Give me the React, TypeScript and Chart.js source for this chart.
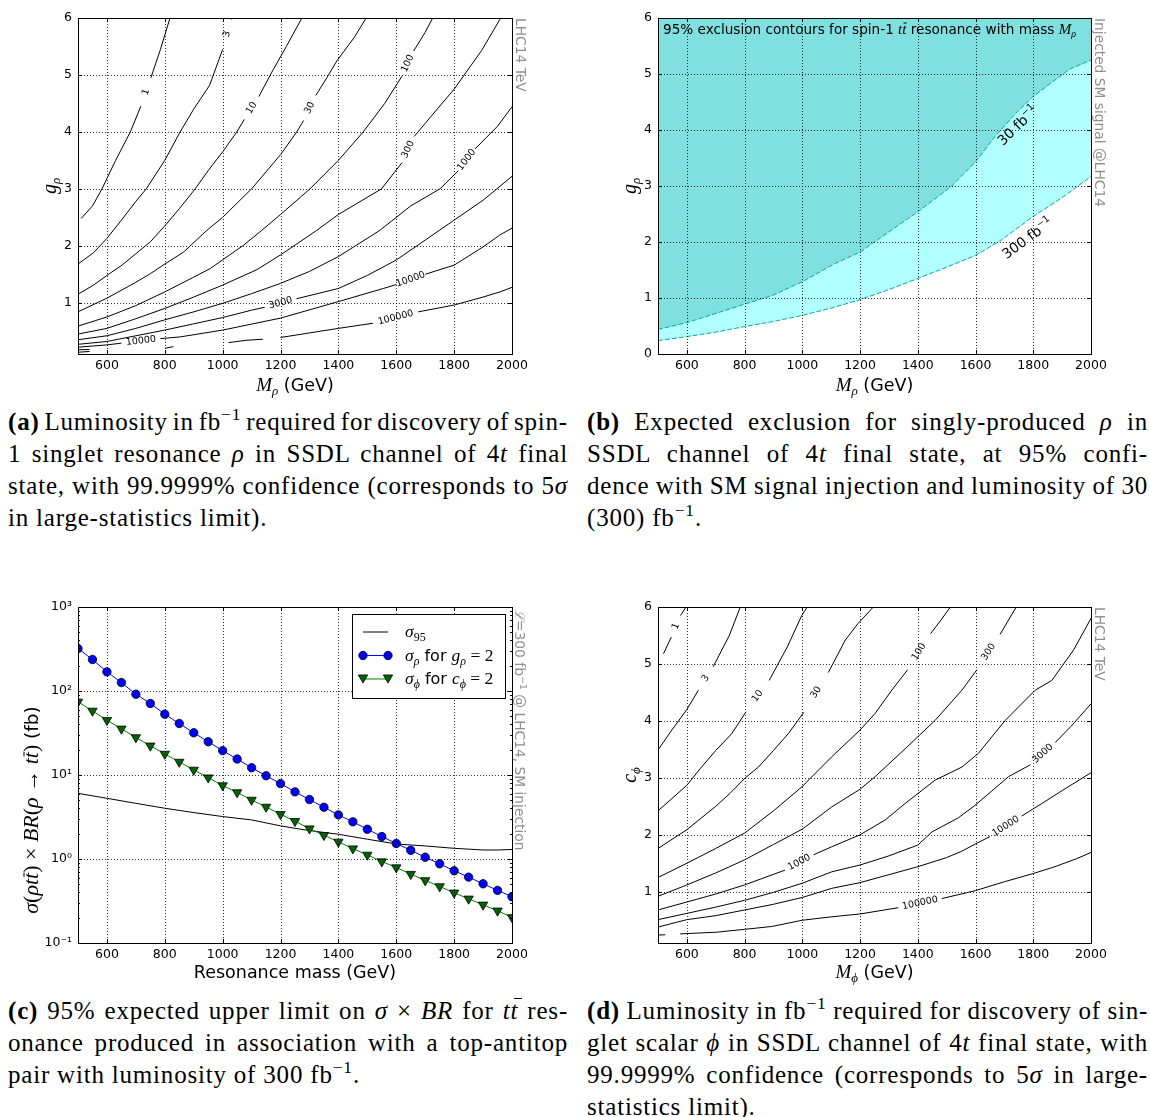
import React, { useEffect, useLayoutEffect, useRef } from 'react';
import { Chart, registerables } from 'chart.js';

Chart.register(...registerables);

const SANS = '"DejaVu Sans", Verdana, sans-serif';
const SERIF = '"Liberation Serif", "DejaVu Serif", serif';
const GRAY = '#8f8f8f';

// ---------------- data ----------------
const MASS_TICKS = [600, 800, 1000, 1200, 1400, 1600, 1800, 2000];
const G_TICKS = [1, 2, 3, 4, 5, 6];
const G_TICKS_B = [0, 1, 2, 3, 4, 5, 6];
const LOG_TICKS = [0.1, 1, 10, 100, 1000];
const LOG_TICK_LABELS = ['10⁻¹', '10⁰', '10¹', '10²', '10³'];
const LEVELS = ['1', '3', '10', '30', '100', '300', '1000', '3000', '10000', '100000'];

// contour polylines [mass, coupling]; null = labelled gap, '|' = plain break
type P = [number, number] | null | '|';

// (a) spin-1 rho, g_rho
const RHO_1: P[] = [[511, 2.48], [550, 2.7], [583, 3.0], [630, 3.5], [681, 4.0], [717, 4.45], null, [752, 4.95], [785, 5.45], [818, 6.0]];
const RHO_3: P[] = [[500, 1.68], [554, 1.88], [600, 2.13], [650, 2.45], [700, 2.78], [736, 3.0], [800, 3.5], [853, 4.0], [900, 4.4], [955, 4.82], [1000, 5.45], null, [1030, 5.98], [1032, 6.0]];
const RHO_10: P[] = [[500, 1.15], [554, 1.31], [600, 1.48], [652, 1.66], [700, 1.86], [750, 2.07], [800, 2.35], [850, 2.65], [905, 3.0], [950, 3.32], [1000, 3.65], [1049, 4.0], [1075, 4.22], null, [1125, 4.62], [1170, 5.05], [1220, 5.5], [1274, 6.0]];
const RHO_30: P[] = [[500, 0.84], [600, 1.08], [700, 1.36], [750, 1.51], [800, 1.68], [865, 1.89], [945, 2.27], [1000, 2.5], [1100, 3.0], [1200, 3.6], [1256, 4.0], [1280, 4.2], null, [1322, 4.64], [1360, 4.95], [1395, 5.25], [1455, 5.66], [1496, 6.0]];
const RHO_100: P[] = [[500, 0.59], [600, 0.75], [700, 0.95], [800, 1.19], [900, 1.45], [957, 1.6], [1072, 2.01], [1135, 2.27], [1200, 2.55], [1302, 3.0], [1400, 3.5], [1486, 4.0], [1560, 4.5], [1620, 4.98], null, [1660, 5.42], [1700, 5.75], [1726, 6.0]];
const RHO_300: P[] = [[500, 0.45], [600, 0.55], [700, 0.72], [800, 0.9], [900, 1.1], [1000, 1.31], [1118, 1.58], [1200, 1.84], [1325, 2.27], [1400, 2.55], [1549, 3.0], [1620, 3.46], null, [1662, 3.92], [1700, 4.15], [1800, 4.75], [1895, 5.43], [1961, 6.0]];
const RHO_1000: P[] = [[500, 0.35], [600, 0.42], [700, 0.55], [800, 0.7], [900, 0.84], [1000, 0.99], [1100, 1.16], [1200, 1.34], [1300, 1.55], [1400, 1.81], [1543, 2.27], [1650, 2.7], [1751, 3.0], [1815, 3.32], null, [1872, 3.7], [1950, 4.1], [2000, 4.44]];
const RHO_3000: P[] = [[500, 0.27], [600, 0.32], [700, 0.42], [800, 0.52], [900, 0.63], [1000, 0.74], [1100, 0.87], [1145, 0.92], null, [1255, 1.07], [1400, 1.25], [1500, 1.48], [1600, 1.75], [1700, 2.1], [1800, 2.45], [1900, 2.8], [2000, 3.22]];
const RHO_10000: P[] = [[500, 0.22], [600, 0.26], [650, 0.29], null, [785, 0.37], [853, 0.4], [1000, 0.52], [1200, 0.73], [1400, 1.02], [1555, 1.25], [1600, 1.32], null, [1700, 1.5], [1800, 1.66], [1900, 1.98], [1958, 2.19], [2000, 2.31]];
const RHO_100000: P[] = [[500, 0.175], [540, 0.178], '|', [500, 0.13], [540, 0.145], '|', [801, 0.2], [830, 0.23], '|', [1020, 0.3], [1080, 0.34], [1139, 0.36], '|', [1200, 0.39], [1300, 0.47], [1400, 0.55], [1520, 0.64], null, [1676, 0.84], [1800, 0.96], [1900, 1.1], [1958, 1.19], [2000, 1.27]];

// (d) scalar phi, c_phi
const PHI_1: P[] = [[519, 5.18], [546, 5.47], null, [578, 5.85], [597, 6.0]];
const PHI_3: P[] = [[500, 3.49], [548, 3.84], [600, 4.2], [640, 4.54], null, [691, 4.95], [747, 5.5], [785, 6.0]];
const PHI_10: P[] = [[500, 2.42], [600, 2.87], [646, 3.16], [700, 3.48], [756, 3.78], [805, 4.16], null, [885, 4.71], [948, 5.3], [998, 5.85], [1017, 6.0]];
const PHI_30: P[] = [[500, 1.76], [600, 2.09], [700, 2.5], [750, 2.73], [802, 3.0], [848, 3.19], [900, 3.48], [952, 3.78], [1005, 4.15], null, [1090, 4.85], [1149, 5.42], [1193, 5.71], [1246, 6.0]];
const PHI_100: P[] = [[500, 1.25], [600, 1.5], [700, 1.76], [800, 2.03], [900, 2.42], [998, 2.84], [1102, 3.37], [1200, 3.84], [1252, 4.13], [1310, 4.54], [1365, 4.9], null, [1444, 5.53], [1480, 5.77], [1513, 6.0]];
const PHI_300: P[] = [[500, 0.92], [600, 1.12], [700, 1.33], [800, 1.56], [900, 1.83], [1000, 2.1], [1102, 2.49], [1200, 2.8], [1252, 3.02], [1356, 3.51], [1460, 4.01], [1553, 4.54], [1605, 4.9], null, [1685, 5.52], [1741, 6.0]];
const PHI_1000: P[] = [[500, 0.68], [600, 0.82], [700, 0.96], [800, 1.12], [940, 1.38], null, [1039, 1.65], [1102, 1.79], [1200, 2.0], [1287, 2.26], [1356, 2.55], [1460, 2.96], [1553, 3.19], [1610, 3.43], [1703, 4.01], [1807, 4.54], [1864, 4.71], [1939, 5.24], [2000, 5.8]];
const PHI_3000: P[] = [[500, 0.51], [600, 0.62], [700, 0.73], [800, 0.85], [900, 0.99], [1000, 1.15], [1102, 1.35], [1200, 1.47], [1300, 1.63], [1400, 1.82], [1449, 2.05], [1541, 2.3], [1599, 2.52], [1714, 3.02], [1790, 3.23], null, [1876, 3.62], [1930, 3.9], [2000, 4.3]];
const PHI_10000: P[] = [[500, 0.38], [600, 0.51], [700, 0.58], [800, 0.68], [900, 0.78], [1000, 0.9], [1102, 1.06], [1200, 1.16], [1300, 1.3], [1400, 1.44], [1500, 1.6], [1552, 1.71], [1600, 1.84], [1650, 1.97], null, [1760, 2.33], [1830, 2.55], [1901, 2.78], [2000, 3.09]];
const PHI_100000: P[] = [[500, 0.24], [525, 0.245], '|', [577, 0.26], [704, 0.29], [800, 0.34], [894, 0.39], [1000, 0.5], [1102, 0.56], [1200, 0.61], [1333, 0.72], null, [1483, 0.88], [1600, 1.02], [1703, 1.18], [1800, 1.32], [1875, 1.44], [1950, 1.58], [2000, 1.69]];

// (b) exclusion boundaries
const EXCL_30: [number, number][] = [[500, 0.44], [600, 0.56], [697, 0.72], [800, 0.89], [898, 1.05], [1000, 1.29], [1111, 1.61], [1200, 1.82], [1300, 2.18], [1400, 2.54], [1513, 2.98], [1600, 3.43], [1665, 3.87], [1738, 4.29], [1798, 4.59], [1864, 4.85], [1927, 5.09], [2000, 5.25]];
const EXCL_300: [number, number][] = [[500, 0.24], [600, 0.31], [700, 0.39], [800, 0.49], [900, 0.58], [1000, 0.69], [1100, 0.82], [1200, 0.97], [1300, 1.15], [1400, 1.35], [1500, 1.55], [1600, 1.76], [1688, 2.03], [1798, 2.45], [1902, 2.8], [2000, 3.17]];
const EXCL_LABEL_TEXT = ['30 fb', '300 fb'];
const EXCL_LABEL_POS: [number, number][] = [[1757, 4.11], [1789, 2.09]];

// (c) cross sections (fb)
const C_MASS = [500, 550, 600, 650, 700, 750, 800, 850, 900, 950, 1000, 1050, 1100, 1150, 1200, 1250, 1300, 1350, 1400, 1450, 1500, 1550, 1600, 1650, 1700, 1750, 1800, 1850, 1900, 1950, 2000];
const C_SIGMA_RHO = [320, 237, 169, 126, 91.6, 71, 53, 41, 31.8, 24.9, 19.5, 15.5, 12.2, 9.8, 7.9, 6.3, 5.1, 4.13, 3.35, 2.77, 2.26, 1.85, 1.53, 1.27, 1.05, 0.877, 0.724, 0.608, 0.507, 0.423, 0.355];
const C_SIGMA_PHI = [74.3, 58, 45, 35.5, 28, 22.3, 17.8, 14.3, 11.5, 9.3, 7.5, 6.2, 5.05, 4.17, 3.41, 2.82, 2.3, 1.92, 1.6, 1.33, 1.12, 0.933, 0.792, 0.661, 0.556, 0.471, 0.396, 0.336, 0.285, 0.242, 0.202];
const S95_MASS = [500, 600, 700, 800, 900, 1000, 1100, 1200, 1250, 1300, 1400, 1500, 1600, 1700, 1800, 1850, 1900, 1950, 2000];
const S95 = [6.05, 5.28, 4.6, 4.02, 3.57, 3.2, 2.92, 2.48, 2.32, 2.18, 1.97, 1.72, 1.51, 1.43, 1.34, 1.31, 1.28, 1.28, 1.3];

const RHO_CURVES = [RHO_1, RHO_3, RHO_10, RHO_30, RHO_100, RHO_300, RHO_1000, RHO_3000, RHO_10000, RHO_100000];
const PHI_CURVES = [PHI_1, PHI_3, PHI_10, PHI_30, PHI_100, PHI_300, PHI_1000, PHI_3000, PHI_10000, PHI_100000];

// ---------------- helpers ----------------
type Seg = { t: string; f: string; dy?: number; bar?: boolean };
const it = (t: string, s: number, dy = 0, bar = false): Seg => ({ t, f: `italic ${s}px ${SERIF}`, dy, bar });
const rm = (t: string, s: number, dy = 0): Seg => ({ t, f: `${s}px ${SERIF}`, dy });
const sf = (t: string, s: number, dy = 0): Seg => ({ t, f: `${s}px ${SANS}`, dy });

function drawRich(ctx: any, segs: Seg[], x: number, y: number, align: 'left' | 'center', rot = 0, color = '#000') {
  ctx.save();
  ctx.translate(x, y);
  ctx.rotate(rot);
  ctx.fillStyle = color;
  ctx.strokeStyle = color;
  ctx.textAlign = 'left';
  ctx.textBaseline = 'alphabetic';
  let w = 0;
  for (const s of segs) { ctx.font = s.f; w += ctx.measureText(s.t).width; }
  let cx = align === 'center' ? -w / 2 : 0;
  for (const s of segs) {
    ctx.font = s.f;
    const sw = ctx.measureText(s.t).width;
    ctx.fillText(s.t, cx, s.dy || 0);
    if (s.bar) {
      const m = ctx.measureText(s.t);
      const top = -m.actualBoundingBoxAscent - 2 + (s.dy || 0);
      ctx.lineWidth = 1;
      ctx.beginPath();
      ctx.moveTo(cx + sw * 0.3, top);
      ctx.lineTo(cx + sw * 1.05, top);
      ctx.stroke();
    }
    cx += sw;
  }
  ctx.restore();
}

function toPoints(pts: P[]) {
  const out: any[] = [];
  for (let i = 0; i < pts.length; i++) {
    const p = pts[i];
    if (p === null || p === '|') {
      const a = pts[i - 1] as [number, number];
      const b = pts[i + 1] as [number, number];
      out.push({ x: (a[0] + b[0]) / 2, y: null, labelled: p === null });
    } else {
      out.push({ x: p[0], y: p[1] });
    }
  }
  return out;
}

function framePlugin(minorY?: number[]) {
  return {
    id: 'frameGrid',
    afterDatasetsDraw(chart: any) {
      const { ctx, chartArea: a } = chart;
      const xs = chart.scales.x;
      const ys = chart.scales.y;
      ctx.save();
      ctx.lineWidth = 1;
      ctx.strokeStyle = 'rgba(0,0,0,0.8)';
      ctx.setLineDash([1, 2]);
      ctx.beginPath();
      for (const t of xs.ticks) {
        const p = Math.round(xs.getPixelForValue(t.value)) + 0.5;
        if (p < a.left + 2 || p > a.right - 2) continue;
        ctx.moveTo(p, a.top); ctx.lineTo(p, a.bottom);
      }
      for (const t of ys.ticks) {
        const p = Math.round(ys.getPixelForValue(t.value)) + 0.5;
        if (p < a.top + 2 || p > a.bottom - 2) continue;
        ctx.moveTo(a.left, p); ctx.lineTo(a.right, p);
      }
      ctx.stroke();
      ctx.setLineDash([]);
      ctx.strokeStyle = '#000';
      ctx.beginPath();
      const L = 4;
      for (const t of xs.ticks) {
        const p = Math.round(xs.getPixelForValue(t.value)) + 0.5;
        ctx.moveTo(p, a.bottom); ctx.lineTo(p, a.bottom - L);
        ctx.moveTo(p, a.top); ctx.lineTo(p, a.top + L);
      }
      for (const t of ys.ticks) {
        const p = Math.round(ys.getPixelForValue(t.value)) + 0.5;
        ctx.moveTo(a.left, p); ctx.lineTo(a.left + L, p);
        ctx.moveTo(a.right, p); ctx.lineTo(a.right - L, p);
      }
      if (minorY) {
        for (const v of minorY) {
          const p = Math.round(ys.getPixelForValue(v)) + 0.5;
          ctx.moveTo(a.left, p); ctx.lineTo(a.left + 2, p);
          ctx.moveTo(a.right, p); ctx.lineTo(a.right - 2, p);
        }
      }
      ctx.stroke();
      ctx.strokeRect(Math.round(a.left) + 0.5, Math.round(a.top) + 0.5, Math.round(a.right - a.left), Math.round(a.bottom - a.top));
      ctx.restore();
    },
  };
}

function contourLabelPlugin(levels: string[]) {
  return {
    id: 'clabels',
    afterDatasetsDraw(chart: any) {
      const { ctx } = chart;
      const xs = chart.scales.x;
      const ys = chart.scales.y;
      chart.data.datasets.forEach((ds: any, di: number) => {
        const d = ds.data;
        for (let i = 1; i < d.length - 1; i++) {
          if (d[i].y !== null || !d[i].labelled) continue;
          const ax = xs.getPixelForValue(d[i - 1].x), ay = ys.getPixelForValue(d[i - 1].y);
          const bx = xs.getPixelForValue(d[i + 1].x), by = ys.getPixelForValue(d[i + 1].y);
          let ang = Math.atan2(by - ay, bx - ax);
          if (ang > Math.PI / 2) ang -= Math.PI;
          if (ang < -Math.PI / 2) ang += Math.PI;
          ctx.save();
          ctx.translate((ax + bx) / 2, (ay + by) / 2);
          ctx.rotate(ang);
          ctx.font = `9.5px ${SANS}`;
          ctx.fillStyle = '#000';
          ctx.textAlign = 'center';
          ctx.textBaseline = 'middle';
          ctx.fillText(levels[di], 0, 0);
          ctx.restore();
        }
      });
    },
  };
}

function scalesCfg(o: { yTicks: number[]; yMin: number; yMax: number; yLog?: boolean; leftW: number; bottomH: number }) {
  return {
    x: {
      type: 'linear', min: 500, max: 2000,
      afterBuildTicks: (s: any) => { s.ticks = MASS_TICKS.map((v) => ({ value: v })); },
      afterFit: (s: any) => { s.height = o.bottomH; },
      grid: { display: false, drawTicks: false },
      border: { display: false },
      ticks: { color: '#000', font: { family: SANS, size: 12.5 }, padding: 4, maxRotation: 0, minRotation: 0, autoSkip: false, callback: (v: any) => String(v) },
    },
    y: {
      type: o.yLog ? 'logarithmic' : 'linear', min: o.yMin, max: o.yMax,
      afterBuildTicks: (s: any) => { s.ticks = o.yTicks.map((v) => ({ value: v })); },
      afterFit: (s: any) => { s.width = o.leftW; },
      grid: { display: false, drawTicks: false },
      border: { display: false },
      ticks: {
        color: '#000', font: { family: SANS, size: 12.5 }, padding: 6, autoSkip: false,
        callback: o.yLog ? (v: any) => { const k = LOG_TICKS.indexOf(Number(v)); return k >= 0 ? LOG_TICK_LABELS[k] : ''; } : (v: any) => String(v),
      },
    },
  };
}

const baseOptions = (padTop: number, padRight: number) => ({
  animation: false,
  responsive: false,
  maintainAspectRatio: false,
  layout: { padding: { top: padTop, right: padRight, left: 0, bottom: 0 } },
  plugins: { legend: { display: false }, tooltip: { enabled: false }, title: { display: false } },
});

function contourConfig(curves: P[][], yTicks: number[], padRight: number, decor: (chart: any) => void, padTop: number, bottomH: number) {
  return {
    type: 'line',
    data: {
      datasets: curves.map((c, i) => ({
        label: LEVELS[i],
        data: toPoints(c),
        borderColor: '#000',
        borderWidth: 1,
        pointRadius: 0,
        fill: false,
        tension: 0,
        spanGaps: false,
      })),
    },
    options: { ...baseOptions(padTop, padRight), scales: scalesCfg({ yTicks, yMin: 0.1, yMax: 6, leftW: 78, bottomH }) },
    plugins: [framePlugin(), contourLabelPlugin(LEVELS), { id: 'decor', afterDraw: decor }],
  };
}

const MATH = 19;
const SUB = 13;
const LBL = 17.5;

function configA() {
  return contourConfig(RHO_CURVES, G_TICKS, 68, (chart: any) => {
    const { ctx, chartArea: a } = chart;
    drawRich(ctx, [it('M', MATH), it('ρ', SUB, 4), sf(' (GeV)', LBL)], (a.left + a.right) / 2, 391, 'center');
    drawRich(ctx, [it('g', 20), it('ρ', SUB, 4)], 56, (a.top + a.bottom) / 2, 'center', -Math.PI / 2);
    drawRich(ctx, [sf('LHC14 TeV', 13.8)], a.right + 3.5, a.top, 'left', Math.PI / 2, GRAY);
  }, 18, 46);
}

function configD() {
  return contourConfig(PHI_CURVES, G_TICKS, 59, (chart: any) => {
    const { ctx, chartArea: a } = chart;
    drawRich(ctx, [it('M', MATH), it('ϕ', SUB, 4), sf(' (GeV)', LBL)], (a.left + a.right) / 2, 388, 'center');
    drawRich(ctx, [it('c', 20), it('ϕ', SUB, 4)], 56, (a.top + a.bottom) / 2, 'center', -Math.PI / 2);
    drawRich(ctx, [sf('LHC14 TeV', 13.8)], a.right + 3.5, a.top, 'left', Math.PI / 2, GRAY);
  }, 17, 47);
}

function configB() {
  const mk = (pts: [number, number][]) => pts.map((p) => ({ x: p[0], y: p[1] }));
  const curves = [EXCL_30, EXCL_300];
  return {
    type: 'line',
    data: {
      datasets: [
        { label: '30', data: mk(EXCL_30), borderColor: 'rgb(0,170,170)', borderWidth: 1, borderDash: [5, 2], pointRadius: 0, fill: 'end', backgroundColor: '#80dfdf', tension: 0 },
        { label: '300', data: mk(EXCL_300), borderColor: 'rgb(0,170,170)', borderWidth: 1, borderDash: [5, 2], pointRadius: 0, fill: 'end', backgroundColor: '#b2ffff', tension: 0 },
      ],
    },
    options: { ...baseOptions(18, 59), scales: scalesCfg({ yTicks: G_TICKS_B, yMin: 0, yMax: 6, leftW: 78, bottomH: 46 }) },
    plugins: [
      framePlugin(),
      {
        id: 'decor',
        afterDraw(chart: any) {
          const { ctx, chartArea: a } = chart;
          const xs = chart.scales.x, ys = chart.scales.y;
          drawRich(ctx, [it('M', MATH), it('ρ', SUB, 4), sf(' (GeV)', LBL)], (a.left + a.right) / 2, 391, 'center');
          drawRich(ctx, [it('g', 20), it('ρ', SUB, 4)], 56, (a.top + a.bottom) / 2, 'center', -Math.PI / 2);
          drawRich(ctx, [sf('Injected SM signal @LHC14', 13.8)], a.right + 3.5, a.top, 'left', Math.PI / 2, GRAY);
          drawRich(ctx, [sf('95% exclusion contours for spin-1 ', 13.6), it('t', 15), it('t', 15, 0, true), sf(' resonance with mass ', 13.6), it('M', 15), it('ρ', 10, 3)], a.left + 5, 34, 'left');
          EXCL_LABEL_POS.forEach((pos, k) => {
            const c = curves[k];
            let j = 0;
            while (j < c.length - 2 && c[j + 1][0] < pos[0]) j++;
            const ang = Math.atan2(ys.getPixelForValue(c[j + 1][1]) - ys.getPixelForValue(c[j][1]), xs.getPixelForValue(c[j + 1][0]) - xs.getPixelForValue(c[j][0]));
            drawRich(ctx, [sf(EXCL_LABEL_TEXT[k], 14), sf('−1', 9.5, -6)], xs.getPixelForValue(pos[0]), ys.getPixelForValue(pos[1]) + 5, 'center', ang);
          });
        },
      },
    ],
  };
}

const MINOR_LOG = [0.2, 0.3, 0.4, 0.5, 0.6, 0.7, 0.8, 0.9, 2, 3, 4, 5, 6, 7, 8, 9, 20, 30, 40, 50, 60, 70, 80, 90, 200, 300, 400, 500, 600, 700, 800, 900];

function configC() {
  const rho = C_MASS.map((m, i) => ({ x: m, y: C_SIGMA_RHO[i] }));
  const phi = C_MASS.map((m, i) => ({ x: m, y: C_SIGMA_PHI[i] }));
  const s95 = S95_MASS.map((m, i) => ({ x: m, y: S95[i] }));
  const dsS95 = { label: 'sigma95', data: s95, borderColor: '#000', borderWidth: 1, pointRadius: 0, tension: 0, fill: false, order: 3 };
  const dsRho = { label: 'sigma_rho', data: rho, borderColor: '#0000ff', borderWidth: 1, pointRadius: 4.2, pointBackgroundColor: '#0000ff', pointBorderColor: '#000', pointBorderWidth: 0.8, pointStyle: 'circle', tension: 0, fill: false, order: 2 };
  const dsPhi = { label: 'sigma_phi', data: phi, borderColor: '#008000', borderWidth: 1, pointRadius: 5.4, pointBackgroundColor: '#006400', pointBorderColor: '#000', pointBorderWidth: 0.8, pointStyle: 'triangle', pointRotation: 180, tension: 0, fill: false, order: 1 };
  return {
    type: 'line',
    data: { datasets: [dsS95, dsRho, dsPhi] },
    options: { ...baseOptions(17, 68), scales: scalesCfg({ yTicks: LOG_TICKS, yMin: 0.1, yMax: 1000, yLog: true, leftW: 78, bottomH: 47 }) },
    plugins: [
      framePlugin(MINOR_LOG),
      {
        id: 'decor',
        afterDraw(chart: any) {
          const { ctx, chartArea: a } = chart;
          drawRich(ctx, [sf('Resonance mass (GeV)', LBL)], (a.left + a.right) / 2, 388, 'center');
          const M = 22;
          drawRich(ctx, [it('σ', M), rm('(', M), it('ρ', M), it('t', M), it('t', M, 0, true), rm(')', M), rm(' × ', M), it('BR', M), rm('(', M), it('ρ', M), rm(' → ', M), it('t', M), it('t', M, 0, true), rm(')', M), sf(' (fb)', 18.5)], 38, 220, 'center', -Math.PI / 2);
          drawRich(ctx, [it('ℒ', 13.8), sf('=300 fb', 13.8), sf('−1', 9.5, -5), sf(' @ LHC14, SM injection', 13.8)], a.right + 2.5, a.top + 2, 'left', Math.PI / 2, GRAY);
          // legend
          const L = 352.5, T = 24.5, R = 505.5, B = 108.5;
          ctx.save();
          ctx.fillStyle = '#fff';
          ctx.fillRect(L, T, R - L, B - T);
          ctx.strokeStyle = '#000';
          ctx.lineWidth = 1;
          ctx.strokeRect(L, T, R - L, B - T);
          const rows = [42, 65.5, 89];
          const x0 = 363, x1 = 388;
          ctx.strokeStyle = dsS95.borderColor; ctx.beginPath(); ctx.moveTo(x0, rows[0]); ctx.lineTo(x1, rows[0]); ctx.stroke();
          ctx.strokeStyle = dsRho.borderColor; ctx.beginPath(); ctx.moveTo(x0, rows[1]); ctx.lineTo(x1, rows[1]); ctx.stroke();
          for (const xx of [x0, x1]) {
            ctx.beginPath(); ctx.arc(xx, rows[1], dsRho.pointRadius, 0, Math.PI * 2);
            ctx.fillStyle = dsRho.pointBackgroundColor; ctx.fill(); ctx.lineWidth = 0.8; ctx.strokeStyle = '#000'; ctx.stroke();
          }
          ctx.lineWidth = 1; ctx.strokeStyle = dsPhi.borderColor; ctx.beginPath(); ctx.moveTo(x0, rows[2]); ctx.lineTo(x1, rows[2]); ctx.stroke();
          for (const xx of [x0, x1]) {
            const r = dsPhi.pointRadius; const yy = rows[2] - r / 4;
            ctx.beginPath();
            ctx.moveTo(xx, yy + r);
            ctx.lineTo(xx - r * 0.866, yy - r / 2);
            ctx.lineTo(xx + r * 0.866, yy - r / 2);
            ctx.closePath();
            ctx.fillStyle = dsPhi.pointBackgroundColor; ctx.fill(); ctx.lineWidth = 0.8; ctx.strokeStyle = '#000'; ctx.stroke();
          }
          ctx.restore();
          const tx = 405;
          drawRich(ctx, [it('σ', 17.5), rm('95', 12, 4)], tx, rows[0] + 5, 'left');
          drawRich(ctx, [it('σ', 17.5), it('ρ', 12, 4), sf(' for ', 16), it('g', 17.5), it('ρ', 12, 4), rm(' = 2', 17.5)], tx, rows[1] + 5, 'left');
          drawRich(ctx, [it('σ', 17.5), it('ϕ', 12, 4), sf(' for ', 16), it('c', 17.5), it('ϕ', 12, 4), rm(' = 2', 17.5)], tx, rows[2] + 5, 'left');
        },
      },
    ],
  };
}

function ChartCanvas({ left, top, width, height, make }: any) {
  const ref = useRef<HTMLCanvasElement>(null);
  useEffect(() => {
    const chart = new Chart(ref.current as any, make() as any);
    return () => chart.destroy();
  }, []);
  return <canvas ref={ref} width={width} height={height} style={{ position: 'absolute', left, top, width, height }} />;
}

const FB = (
  <>
    fb<sup style={{ fontSize: '0.7em', lineHeight: 0, verticalAlign: '0.6em' }}>−1</sup>
  </>
);
const TT = (
  <i>
    t<span style={{ position: 'relative' }}>t<span style={{ position: 'absolute', left: '0.12em', top: '0.02em', width: '0.32em', borderTop: '1.3px solid #000' }} /></span>
  </i>
);

const CAP_FONT = 25;
const CAP_LS = 0.8;

function CapLine({ x, y, w, last, children }: any) {
  const ref = useRef<HTMLDivElement>(null);
  useLayoutEffect(() => {
    const el = ref.current;
    if (!el) return;
    let ws = 0;
    while (el.scrollWidth > w && ws > -3) { ws -= 0.25; el.style.wordSpacing = `${ws}px`; }
    let ls = CAP_LS;
    while (el.scrollWidth > w && ls > -1.5) { ls -= 0.1; el.style.letterSpacing = `${ls}px`; }
  }, []);
  return (
    <div
      ref={ref}
      style={{
        position: 'absolute', left: x, top: y, width: w, height: 32, lineHeight: '32px',
        fontFamily: SERIF, fontSize: CAP_FONT, letterSpacing: `${CAP_LS}px`, color: '#000',
        textAlign: 'justify', textAlignLast: last ? 'left' : 'justify', whiteSpace: 'nowrap',
      }}
    >
      {children}
    </div>
  );
}

function Caption({ x, y, w, lines }: any) {
  return (
    <>
      {lines.map((ln: any, i: number) => (
        <CapLine key={i} x={x} y={y + i * 32} w={w} last={i === lines.length - 1}>{ln}</CapLine>
      ))}
    </>
  );
}

export default function App() {
  return (
    <div style={{ position: 'absolute', left: 0, top: 0, width: 1150, height: 1117, background: '#fff', overflow: 'hidden' }}>
      <ChartCanvas left={0} top={0} width={580} height={400} make={configA} />
      <ChartCanvas left={580} top={0} width={570} height={400} make={configB} />
      <ChartCanvas left={0} top={590} width={580} height={400} make={configC} />
      <ChartCanvas left={580} top={590} width={570} height={400} make={configD} />
      <Caption x={8} y={406} w={560} lines={[
        <><b>(a)</b> Luminosity in {FB} required for discovery of spin-</>,
        <>1 singlet resonance <i>ρ</i> in SSDL channel of 4<i>t</i> final</>,
        <>state, with 99.9999% confidence (corresponds to 5<i>σ</i></>,
        <>in large-statistics limit).</>,
      ]} />
      <Caption x={587} y={406} w={561} lines={[
        <><b>(b)</b> Expected exclusion for singly-produced <i>ρ</i> in</>,
        <>SSDL channel of 4<i>t</i> final state, at 95% confi-</>,
        <>dence with SM signal injection and luminosity of 30</>,
        <>(300) {FB}.</>,
      ]} />
      <Caption x={8} y={995} w={560} lines={[
        <><b>(c)</b> 95% expected upper limit on <i>σ</i> × <i>BR</i> for {TT} res-</>,
        <>onance produced in association with a top-antitop</>,
        <>pair with luminosity of 300 {FB}.</>,
      ]} />
      <Caption x={587} y={995} w={561} lines={[
        <><b>(d)</b> Luminosity in {FB} required for discovery of sin-</>,
        <>glet scalar <i>ϕ</i> in SSDL channel of 4<i>t</i> final state, with</>,
        <>99.9999% confidence (corresponds to 5<i>σ</i> in large-</>,
        <>statistics limit).</>,
      ]} />
    </div>
  );
}
